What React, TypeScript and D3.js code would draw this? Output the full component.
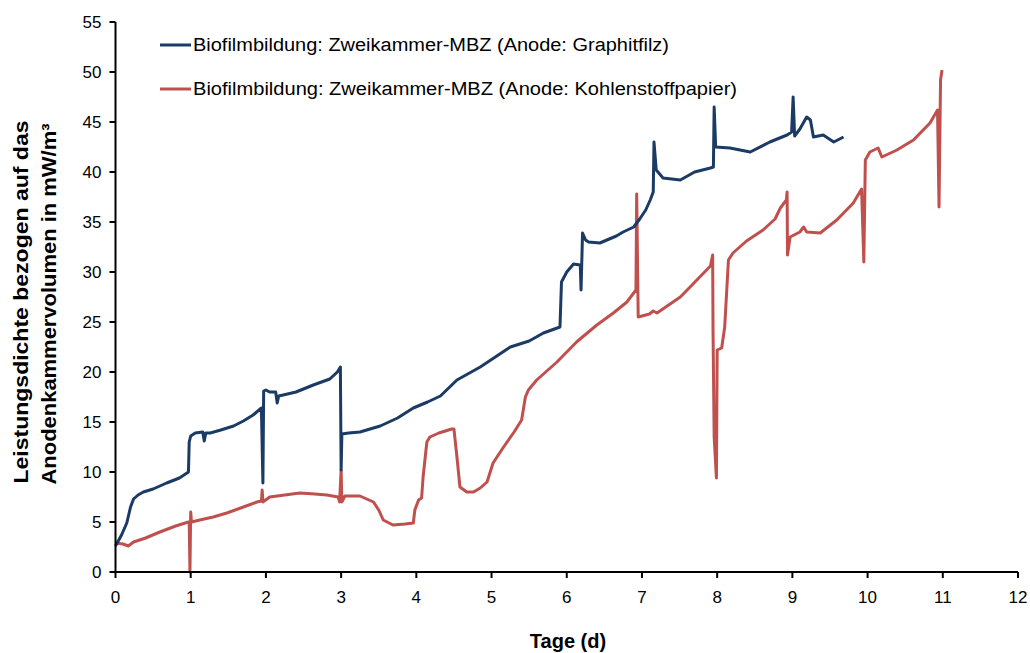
import React from "react";
import * as d3 from "d3";

const xTicks = [0, 1, 2, 3, 4, 5, 6, 7, 8, 9, 10, 11, 12];
const yTicks = [0, 5, 10, 15, 20, 25, 30, 35, 40, 45, 50, 55];

const seriesNames = [
  "Biofilmbildung: Zweikammer-MBZ (Anode: Graphitfilz)",
  "Biofilmbildung: Zweikammer-MBZ (Anode: Kohlenstoffpapier)",
];

const graphitDays = [
  0, 0.08, 0.15, 0.2, 0.24, 0.3, 0.37, 0.5, 0.68, 0.85, 0.95, 0.97, 0.98, 1.0, 1.06, 1.16, 1.18, 1.2, 1.26, 1.4,
  1.57, 1.7, 1.83, 1.94, 1.96, 1.97, 2.0, 2.05, 2.13, 2.15, 2.17, 2.23, 2.4, 2.63, 2.85, 2.95, 2.99, 3.0, 3.01, 3.1,
  3.25, 3.52, 3.75, 3.96, 4.15, 4.32, 4.54, 4.85, 5.05, 5.25, 5.5, 5.69, 5.91, 5.93, 6.0, 6.09, 6.18, 6.19, 6.21, 6.25,
  6.29, 6.44, 6.66, 6.75, 6.89, 6.97, 7.05, 7.11, 7.15, 7.16, 7.19, 7.28, 7.51, 7.7, 7.91, 7.95, 7.96, 7.98, 8.17, 8.44,
  8.7, 8.93, 8.99, 9.01, 9.03, 9.1, 9.19, 9.24, 9.28, 9.41, 9.55, 9.68,
];
const graphitValues = [
  2.6, 3.7, 4.9, 6.5, 7.3, 7.7, 8.0, 8.3, 8.9, 9.4, 9.9, 10.0, 13.0, 13.6, 13.9, 14.0, 13.1, 13.9, 13.9, 14.2,
  14.6, 15.1, 15.7, 16.4, 8.9, 18.1, 18.2, 18.0, 18.0, 16.9, 17.6, 17.7, 18.0, 18.7, 19.3, 20.0, 20.5, 10.2, 13.8, 13.9,
  14.0, 14.6, 15.4, 16.4, 17.0, 17.6, 19.2, 20.5, 21.5, 22.5, 23.1, 23.9, 24.5, 29.0, 30.0, 30.8, 30.7, 28.2, 33.9, 33.2,
  33.0, 32.9, 33.6, 34.0, 34.5, 35.3, 36.2, 37.2, 38.0, 43.0, 40.2, 39.4, 39.2, 40.0, 40.4, 40.5, 46.5, 42.5, 42.4, 42.0,
  43.0, 43.7, 44.0, 47.5, 43.6, 44.3, 45.5, 45.2, 43.5, 43.7, 43.0, 43.5,
];

const kohleDays = [
  0, 0.1, 0.17, 0.24, 0.4, 0.59, 0.8, 0.97, 0.98, 0.99, 1.0, 1.01, 1.12, 1.3, 1.48, 1.7, 1.88, 1.94, 1.95, 1.96,
  2.05, 2.25, 2.45, 2.65, 2.81, 2.96, 2.98, 3.0, 3.01, 3.05, 3.25, 3.43, 3.5, 3.56, 3.69, 3.85, 3.96, 3.98, 4.03, 4.07,
  4.09, 4.14, 4.18, 4.3, 4.47, 4.5, 4.54, 4.58, 4.67, 4.76, 4.85, 4.94, 5.02, 5.16, 5.3, 5.4, 5.45, 5.49, 5.6, 5.87,
  6.13, 6.4, 6.62, 6.8, 6.92, 6.93, 6.95, 7.1, 7.15, 7.2, 7.51, 7.64, 7.91, 7.94, 7.945, 7.96, 7.99, 8.0, 8.06, 8.1,
  8.15, 8.21, 8.39, 8.61, 8.77, 8.84, 8.92, 8.93, 8.935, 8.97, 9.1, 9.15, 9.19, 9.37, 9.59, 9.81, 9.92, 9.95, 9.97, 10.03,
  10.14, 10.19, 10.39, 10.61, 10.83, 10.93, 10.95, 10.97, 10.99,
];
const kohleValues = [
  2.9, 2.8, 2.6, 3.0, 3.4, 4.0, 4.6, 5.0, 5.0, 0, 6.0, 5.0, 5.2, 5.5, 5.9, 6.5, 7.0, 7.1, 8.2, 7.0,
  7.5, 7.7, 7.9, 7.8, 7.7, 7.5, 7.0, 10.2, 7.0, 7.6, 7.6, 7.0, 6.2, 5.2, 4.7, 4.8, 4.9, 6.2, 7.2, 7.4,
  9.5, 13.0, 13.5, 13.9, 14.3, 14.3, 11.5, 8.5, 8.0, 8.0, 8.4, 9.0, 10.9, 12.5, 14.0, 15.2, 17.5, 18.2, 19.2, 21.0,
  23.0, 24.7, 25.9, 27.0, 28.2, 37.8, 25.5, 25.8, 26.1, 25.9, 27.5, 28.5, 30.6, 31.7, 24.2, 13.5, 9.4, 22.2, 22.4, 24.5,
  31.2, 31.9, 33.1, 34.2, 35.3, 36.4, 37.2, 38.0, 31.7, 33.5, 34.0, 34.5, 34.0, 33.9, 35.2, 36.9, 38.3, 31.0, 41.2, 42.0,
  42.4, 41.5, 42.2, 43.2, 44.9, 46.2, 36.5, 49.2, 50.2,
];

const colors = ["#1b3a64", "#c0504d"];

export default function App() {
  const W = 1030;
  const H = 653;
  const left = 115.5;
  const right = 1018;
  const top = 22;
  const bottom = 572;
  const x = d3.scaleLinear().domain([0, 12]).range([left, right]);
  const y = d3.scaleLinear().domain([0, 55]).range([bottom, top]);
  const line = d3
    .line<[number, number]>()
    .x((d) => x(d[0]))
    .y((d) => y(d[1]));
  const s1 = graphitDays.map((d, i) => [d, graphitValues[i]] as [number, number]);
  const s2 = kohleDays.map((d, i) => [d, kohleValues[i]] as [number, number]);
  const font = "'Liberation Sans', Arial, sans-serif";

  return (
    <svg
      width={W}
      height={H}
      style={{ position: "absolute", left: 0, top: 0, background: "#fff" }}
      fontFamily={font}
    >
      <rect width={W} height={H} fill="#fff" />
      <path d={line(s2) || ""} fill="none" stroke={colors[1]} strokeWidth={3} strokeLinejoin="round" />
      <path d={line(s1) || ""} fill="none" stroke={colors[0]} strokeWidth={3} strokeLinejoin="round" />

      {/* axes */}
      <line x1={left} x2={left} y1={top} y2={bottom + 1} stroke="#000" strokeWidth={2} />
      <line x1={left - 1} x2={right} y1={bottom} y2={bottom} stroke="#000" strokeWidth={2} />
      {yTicks.map((t) => (
        <g key={"y" + t}>
          <line x1={left - 6} x2={left} y1={y(t)} y2={y(t)} stroke="#000" strokeWidth={2} />
          <text x={left - 14} y={y(t) + 6} textAnchor="end" fontSize={17} fill="#000">
            {t}
          </text>
        </g>
      ))}
      {xTicks.map((t) => (
        <g key={"x" + t}>
          <line x1={x(t)} x2={x(t)} y1={bottom} y2={bottom + 6} stroke="#000" strokeWidth={2} />
          <text x={x(t)} y={603} textAnchor="middle" fontSize={17} fill="#000">
            {t}
          </text>
        </g>
      ))}

      <text x={568} y={648} textAnchor="middle" fontSize={20} fontWeight="bold" fill="#000">
        Tage (d)
      </text>
      <g transform="translate(28,302) rotate(-90)">
        <text x={0} y={0} textAnchor="middle" fontSize={20} fontWeight="bold" fill="#000" textLength={363} lengthAdjust="spacingAndGlyphs">
          Leistungsdichte bezogen auf das
        </text>
        <text x={-2} y={28} textAnchor="middle" fontSize={20} fontWeight="bold" fill="#000" textLength={361} lengthAdjust="spacingAndGlyphs">
          Anodenkammervolumen in mW/m³
        </text>
      </g>

      {/* legend */}
      {seriesNames.map((name, i) => (
        <g key={name} transform={`translate(0, ${45 + i * 44})`}>
          <line x1={160} x2={191} y1={0} y2={0} stroke={colors[i]} strokeWidth={3} />
          <text x={193} y={6} fontSize={18} fill="#000" textLength={i === 0 ? 476 : 544} lengthAdjust="spacingAndGlyphs">
            {name}
          </text>
        </g>
      ))}
    </svg>
  );
}
